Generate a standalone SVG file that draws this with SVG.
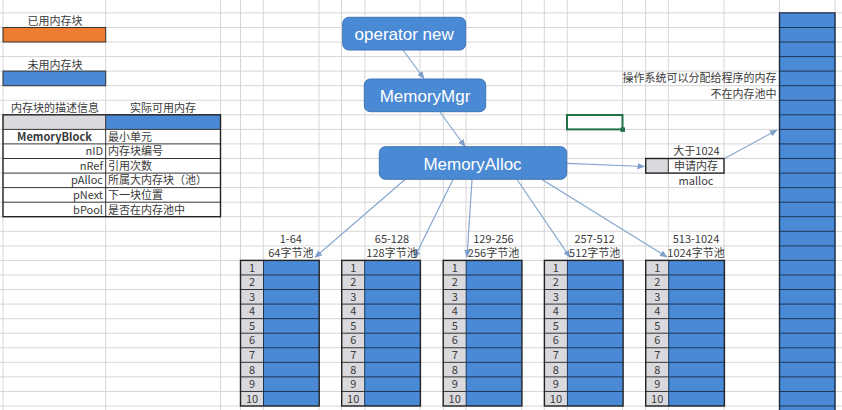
<svg xmlns="http://www.w3.org/2000/svg" width="842" height="410" viewBox="0 0 842 410">
<style>
.t{font-family:"Noto Sans CJK SC","Noto Sans",sans-serif;font-size:11px;fill:#3a3a3a}
.c{text-anchor:middle}
.r{text-anchor:end}
.box{fill:#4a89d3;stroke:#3f75b5;stroke-width:1}
.bt{font-family:"Liberation Sans","Noto Sans",sans-serif;font-size:17px;fill:#ffffff;text-anchor:middle}
.grid{stroke:#d6d6d6;stroke-width:1;fill:none}
.gray{fill:#dadade}
.blue{fill:#4a89d6}
.conn{stroke:#86a6cf;stroke-width:1.2;fill:none;marker-end:url(#ah)}
.navy{stroke:#1d3557;stroke-width:1;fill:none}
.dk{stroke:#333;stroke-width:1;fill:none}
.ob{fill:none;stroke:#222;stroke-width:1.4}
</style>
<defs>
<marker id="ah" markerWidth="8" markerHeight="8" refX="7" refY="4" orient="auto" markerUnits="userSpaceOnUse">
<path d="M0,0.8 L7.5,4 L0,7.2 Z" fill="#7f9fca"/>
</marker>
</defs>
<rect width="842" height="410" fill="#ffffff"/>
<g id="grid" class="grid">
<path d="M0,12.9H842M0,27.5H842M0,42H842M0,56.6H842M0,71.1H842M0,85.7H842M0,100.3H842M0,114.8H842M0,129.4H842M0,143.9H842M0,158.5H842M0,173.1H842M0,187.6H842M0,202.2H842M0,216.7H842M0,231.3H842M0,245.9H842M0,260.4H842M0,275H842M0,289.5H842M0,304.1H842M0,318.7H842M0,333.2H842M0,347.8H842M0,362.3H842M0,376.9H842M0,391.5H842M0,406H842"/>
<path d="M3,0V410M105.7,0V410M220.5,0V410M240.5,0V410M263.3,0V410M319,0V410M341.5,0V410M365,0V410M420,0V410M443.3,0V410M466,0V410M521.7,0V410M544.3,0V410M567.3,0V410M622.5,0V410M645.7,0V410M668.3,0V410M724,0V410M779.5,0V410M835,0V410"/>
</g>
<g id="legend">
<text class="t c" x="55" y="24.5">已用内存块</text>
<rect x="3" y="27.5" width="102.7" height="14.5" fill="#ed7d31" stroke="#333" stroke-width="1"/>
<text class="t c" x="55" y="68.5">未用内存块</text>
<rect x="3" y="71.1" width="102.7" height="14.6" fill="#4a89d6" stroke="#333" stroke-width="1"/>
</g>
<g id="memblock-table">
<text class="t c" x="55" y="112">内存块的描述信息</text>
<text class="t c" x="163" y="112">实际可用内存</text>
<rect x="3" y="114.8" width="102.7" height="14.6" class="gray"/>
<rect x="105.7" y="114.8" width="114.8" height="14.6" class="blue"/>
<rect x="3" y="129.4" width="217.5" height="87.3" fill="#ffffff"/>
<path class="dk" d="M3,129.4H220.5M3,143.9H220.5M3,158.5H220.5M3,173.1H220.5M3,187.6H220.5M3,202.2H220.5M105.7,114.8V216.7"/>
<rect x="3" y="114.8" width="217.5" height="101.9" class="ob"/>
<text class="t c" x="54.5" y="140.6" font-weight="bold">MemoryBlock</text>
<text class="t r" x="103" y="155.2">nID</text>
<text class="t r" x="103" y="169.8">nRef</text>
<text class="t r" x="103" y="184.4">pAlloc</text>
<text class="t r" x="103" y="198.9">pNext</text>
<text class="t r" x="103" y="213.5">bPool</text>
<text class="t" x="108" y="140.6">最小单元</text>
<text class="t" x="108" y="155.2">内存块编号</text>
<text class="t" x="108" y="169.8">引用次数</text>
<text class="t" x="108" y="184.4">所属大内存块（池）</text>
<text class="t" x="108" y="198.9">下一块位置</text>
<text class="t" x="108" y="213.5">是否在内存池中</text>
</g>
<g id="selected-cell">
<rect x="567" y="115" width="55.5" height="14.4" fill="none" stroke="#217346" stroke-width="2"/>
<rect x="620.5" y="127.4" width="4.5" height="4.5" fill="#217346"/>
</g>
<g id="connectors">
<line class="conn" x1="403" y1="50" x2="424" y2="78.5"/>
<line class="conn" x1="440" y1="112" x2="465" y2="146.5"/>
<line class="conn" x1="567" y1="163.3" x2="644.5" y2="166.5"/>
<line class="conn" x1="725" y1="158.3" x2="777" y2="130"/>
<line class="conn" x1="405" y1="179.5" x2="315" y2="257.3"/>
<line class="conn" x1="453" y1="179.5" x2="414.3" y2="258"/>
<line class="conn" x1="472" y1="179.5" x2="467" y2="257"/>
<line class="conn" x1="517" y1="179.5" x2="570" y2="257.3"/>
<line class="conn" x1="542" y1="179.5" x2="667" y2="257"/>
</g>
<g id="operator-new">
<rect class="box" x="342.7" y="17.3" width="123" height="32.7" rx="6"/>
<text class="bt" x="404.2" y="39.8">operator new</text>
</g>
<g id="memorymgr">
<rect class="box" x="364.3" y="79" width="121.4" height="32.7" rx="6"/>
<text class="bt" x="425" y="102">MemoryMgr</text>
</g>
<g id="memoryalloc">
<rect class="box" x="379.3" y="146.7" width="187.4" height="32.6" rx="6"/>
<text class="bt" x="472.5" y="169.5">MemoryAlloc</text>
</g>
<g id="os-memory">
<text class="t r" x="776.5" y="82.2" font-size="10.8">操作系统可以分配给程序的内存</text>
<text class="t r" x="776.5" y="97.6" font-size="10.8">不在内存池中</text>
<rect x="779.5" y="12.9" width="55.5" height="400" class="blue"/>
<path class="navy" d="M779.5,27.5H835M779.5,42H835M779.5,56.6H835M779.5,71.1H835M779.5,85.7H835M779.5,100.3H835M779.5,114.8H835M779.5,129.4H835M779.5,143.9H835M779.5,158.5H835M779.5,173.1H835M779.5,187.6H835M779.5,202.2H835M779.5,216.7H835M779.5,231.3H835M779.5,245.9H835M779.5,260.4H835M779.5,275H835M779.5,289.5H835M779.5,304.1H835M779.5,318.7H835M779.5,333.2H835M779.5,347.8H835M779.5,362.3H835M779.5,376.9H835M779.5,391.5H835M779.5,406H835"/>
<path d="M779.5,412V12.9H835V412" fill="none" stroke="#1a2a40" stroke-width="1.4"/>
</g>
<g id="malloc">
<text class="t c" x="696.5" y="155">大于1024</text>
<rect x="645.7" y="158.5" width="22.6" height="14.6" class="gray"/>
<rect x="668.3" y="158.5" width="55.7" height="14.6" fill="#ffffff"/>
<line x1="668.3" y1="158.5" x2="668.3" y2="173.1" class="dk"/>
<rect x="645.7" y="158.5" width="78.3" height="14.6" class="ob"/>
<text class="t c" x="696" y="169.8">申请内存</text>
<text class="t c" x="696" y="184.5">malloc</text>
</g>
<g id="pool-64" transform="translate(240.5,260.4)">
<rect width="23" height="145.6" class="gray"/>
<rect x="23" width="55.7" height="145.6" class="blue"/>
<path class="dk" d="M0,14.56H23M0,29.12H23M0,43.68H23M0,58.24H23M0,72.8H23M0,87.36H23M0,101.92H23M0,116.48H23M0,131.04H23"/>
<path class="navy" d="M23,14.56H78.7M23,29.12H78.7M23,43.68H78.7M23,58.24H78.7M23,72.8H78.7M23,87.36H78.7M23,101.92H78.7M23,116.48H78.7M23,131.04H78.7M23,0V145.6"/>
<rect width="78.7" height="145.6" class="ob"/>
<text class="t c" x="50.3" y="-17.8">1-64</text>
<text class="t c" x="50.3" y="-3.4">64字节池</text>
<text class="t c" x="11.5" y="11.3">1</text><text class="t c" x="11.5" y="25.9">2</text><text class="t c" x="11.5" y="40.4">3</text><text class="t c" x="11.5" y="55">4</text><text class="t c" x="11.5" y="69.5">5</text><text class="t c" x="11.5" y="84.1">6</text><text class="t c" x="11.5" y="98.7">7</text><text class="t c" x="11.5" y="113.2">8</text><text class="t c" x="11.5" y="127.8">9</text><text class="t c" x="11.5" y="142.3">10</text>
</g>
<g id="pool-128" transform="translate(341.7,260.4)">
<rect width="23" height="145.6" class="gray"/>
<rect x="23" width="55.7" height="145.6" class="blue"/>
<path class="dk" d="M0,14.56H23M0,29.12H23M0,43.68H23M0,58.24H23M0,72.8H23M0,87.36H23M0,101.92H23M0,116.48H23M0,131.04H23"/>
<path class="navy" d="M23,14.56H78.7M23,29.12H78.7M23,43.68H78.7M23,58.24H78.7M23,72.8H78.7M23,87.36H78.7M23,101.92H78.7M23,116.48H78.7M23,131.04H78.7M23,0V145.6"/>
<rect width="78.7" height="145.6" class="ob"/>
<text class="t c" x="50.3" y="-17.8">65-128</text>
<text class="t c" x="50.3" y="-3.4">128字节池</text>
<text class="t c" x="11.5" y="11.3">1</text><text class="t c" x="11.5" y="25.9">2</text><text class="t c" x="11.5" y="40.4">3</text><text class="t c" x="11.5" y="55">4</text><text class="t c" x="11.5" y="69.5">5</text><text class="t c" x="11.5" y="84.1">6</text><text class="t c" x="11.5" y="98.7">7</text><text class="t c" x="11.5" y="113.2">8</text><text class="t c" x="11.5" y="127.8">9</text><text class="t c" x="11.5" y="142.3">10</text>
</g>
<g id="pool-256" transform="translate(443.2,260.4)">
<rect width="23" height="145.6" class="gray"/>
<rect x="23" width="55.7" height="145.6" class="blue"/>
<path class="dk" d="M0,14.56H23M0,29.12H23M0,43.68H23M0,58.24H23M0,72.8H23M0,87.36H23M0,101.92H23M0,116.48H23M0,131.04H23"/>
<path class="navy" d="M23,14.56H78.7M23,29.12H78.7M23,43.68H78.7M23,58.24H78.7M23,72.8H78.7M23,87.36H78.7M23,101.92H78.7M23,116.48H78.7M23,131.04H78.7M23,0V145.6"/>
<rect width="78.7" height="145.6" class="ob"/>
<text class="t c" x="50.3" y="-17.8">129-256</text>
<text class="t c" x="50.3" y="-3.4">256字节池</text>
<text class="t c" x="11.5" y="11.3">1</text><text class="t c" x="11.5" y="25.9">2</text><text class="t c" x="11.5" y="40.4">3</text><text class="t c" x="11.5" y="55">4</text><text class="t c" x="11.5" y="69.5">5</text><text class="t c" x="11.5" y="84.1">6</text><text class="t c" x="11.5" y="98.7">7</text><text class="t c" x="11.5" y="113.2">8</text><text class="t c" x="11.5" y="127.8">9</text><text class="t c" x="11.5" y="142.3">10</text>
</g>
<g id="pool-512" transform="translate(544.4,260.4)">
<rect width="23" height="145.6" class="gray"/>
<rect x="23" width="55.7" height="145.6" class="blue"/>
<path class="dk" d="M0,14.56H23M0,29.12H23M0,43.68H23M0,58.24H23M0,72.8H23M0,87.36H23M0,101.92H23M0,116.48H23M0,131.04H23"/>
<path class="navy" d="M23,14.56H78.7M23,29.12H78.7M23,43.68H78.7M23,58.24H78.7M23,72.8H78.7M23,87.36H78.7M23,101.92H78.7M23,116.48H78.7M23,131.04H78.7M23,0V145.6"/>
<rect width="78.7" height="145.6" class="ob"/>
<text class="t c" x="50.3" y="-17.8">257-512</text>
<text class="t c" x="50.3" y="-3.4">512字节池</text>
<text class="t c" x="11.5" y="11.3">1</text><text class="t c" x="11.5" y="25.9">2</text><text class="t c" x="11.5" y="40.4">3</text><text class="t c" x="11.5" y="55">4</text><text class="t c" x="11.5" y="69.5">5</text><text class="t c" x="11.5" y="84.1">6</text><text class="t c" x="11.5" y="98.7">7</text><text class="t c" x="11.5" y="113.2">8</text><text class="t c" x="11.5" y="127.8">9</text><text class="t c" x="11.5" y="142.3">10</text>
</g>
<g id="pool-1024" transform="translate(645.7,260.4)">
<rect width="23" height="145.6" class="gray"/>
<rect x="23" width="55.7" height="145.6" class="blue"/>
<path class="dk" d="M0,14.56H23M0,29.12H23M0,43.68H23M0,58.24H23M0,72.8H23M0,87.36H23M0,101.92H23M0,116.48H23M0,131.04H23"/>
<path class="navy" d="M23,14.56H78.7M23,29.12H78.7M23,43.68H78.7M23,58.24H78.7M23,72.8H78.7M23,87.36H78.7M23,101.92H78.7M23,116.48H78.7M23,131.04H78.7M23,0V145.6"/>
<rect width="78.7" height="145.6" class="ob"/>
<text class="t c" x="50.3" y="-17.8">513-1024</text>
<text class="t c" x="50.3" y="-3.4">1024字节池</text>
<text class="t c" x="11.5" y="11.3">1</text><text class="t c" x="11.5" y="25.9">2</text><text class="t c" x="11.5" y="40.4">3</text><text class="t c" x="11.5" y="55">4</text><text class="t c" x="11.5" y="69.5">5</text><text class="t c" x="11.5" y="84.1">6</text><text class="t c" x="11.5" y="98.7">7</text><text class="t c" x="11.5" y="113.2">8</text><text class="t c" x="11.5" y="127.8">9</text><text class="t c" x="11.5" y="142.3">10</text>
</g>
</svg>
